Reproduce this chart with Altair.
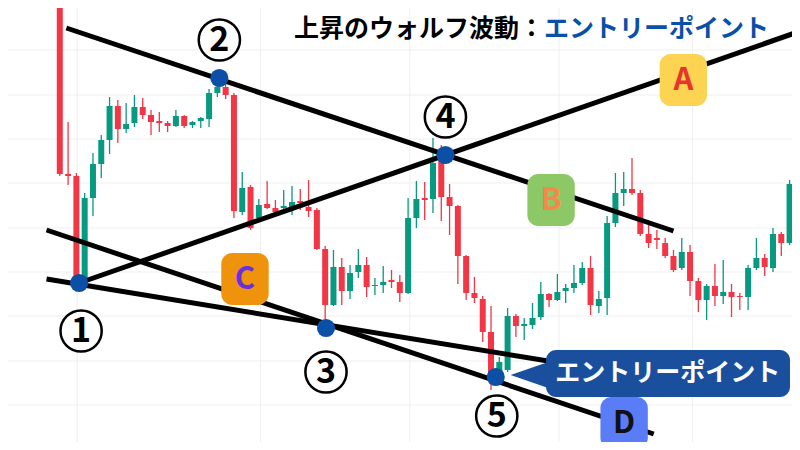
import altair as alt
import pandas as pd

# ---- candle data (index = bar number, prices in chart units) ----
opens = [470, 444, 276, 274, 170, 252, 286, 310, 344, 321, 327, 343, 335, 329, 327, 324, 334, 325, 329, 331,
         357, 363, 355, 238, 263, 232, 246, 242, 242, 243, 249, 243, 240, 201, 145, 183, 159, 178, 185, 164,
         165, 170, 168, 157, 232, 252, 251, 295, 253, 244, 194, 157, 151, 118, 78, 80, 134, 124, 125, 133,
         156, 150, 159, 162, 167, 182, 144, 152, 227, 257, 261, 257, 216, 212, 207, 194, 182, 198, 169, 150,
         164, 154, 158, 154, 153, 182, 192, 182, 216, 207]
closes = [445, 276, 274, 169, 252, 286, 310, 344, 321, 326, 343, 335, 328, 327, 324, 334, 324, 328, 332, 357,
          363, 355, 239, 262, 222, 245, 242, 238, 244, 248, 247, 239, 201, 145, 183, 159, 177, 185, 163, 165,
          168, 168, 157, 232, 251, 250, 287, 253, 244, 194, 157, 152, 118, 75, 88, 134, 124, 126, 132, 156,
          150, 158, 162, 167, 182, 145, 151, 227, 257, 261, 257, 216, 207, 210, 194, 180, 198, 169, 150, 164,
          154, 158, 153, 153, 182, 192, 183, 216, 207, 266]
highs = [475, 446, 328, 277, 257, 297, 315, 353, 350, 347, 355, 352, 340, 338, 329, 340, 335, 329, 333, 361,
         370, 367, 357, 278, 265, 251, 269, 250, 260, 264, 261, 270, 242, 204, 200, 192, 185, 201, 193, 172,
         184, 180, 175, 252, 269, 268, 312, 305, 266, 245, 195, 173, 154, 144, 93, 142, 136, 132, 147, 168,
         157, 176, 166, 185, 188, 194, 159, 234, 277, 278, 292, 260, 226, 220, 212, 200, 212, 205, 172, 166,
         186, 190, 166, 157, 185, 212, 196, 222, 218, 270]
lows = [442, 274, 265, 166, 167, 234, 272, 296, 307, 317, 323, 331, 315, 318, 318, 323, 322, 322, 322, 323,
        353, 351, 232, 235, 220, 230, 241, 236, 241, 235, 240, 233, 200, 128, 144, 145, 151, 172, 153, 155,
        157, 162, 148, 156, 222, 230, 237, 229, 215, 166, 150, 147, 108, 60, 74, 78, 113, 110, 121, 130,
        143, 149, 147, 157, 165, 135, 137, 135, 223, 244, 255, 214, 202, 201, 192, 178, 180, 154, 138, 130,
        144, 146, 133, 140, 140, 180, 174, 178, 194, 205]

# ---- annotation data ----
grid_prices = [444, 400, 355, 311, 267, 222, 178, 134, 89, 45]
grid_bars = [3.1, 25.2, 43.2, 61.2, 77.3]

trend_ids = ["L1", "L1", "L2", "L2", "L3", "L3", "L4", "L4"]
trend_x = [1.79, 75.0, 3.33, 89.64, -0.6, 59.88, -0.6, 72.62]
trend_y = [422, 219, 167, 417, 171, 89, 220, 16]

pivot_x = [3.33, 20.24, 33.1, 47.5, 53.57]
pivot_y = [167, 372, 122, 295, 73]

num_labels = ["1", "2", "3", "4", "5"]
num_x = [3.57, 20.24, 33.1, 47.5, 53.69]
num_y = [119, 410, 78, 333, 34]

box_labels = ["A", "B", "C", "D"]
box_x = [76.19, 60.24, 23.33, 69.05]
box_y = [370, 250, 171, 27]
box_fill = ["#fdd352", "#8cc865", "#f0930c", "#5a7cf6"]
box_text = ["#e8352c", "#f5894b", "#6a2fe0", "#111111"]

GREEN = "#089981"
RED = "#f23645"
BLUE = "#0b4fa6"
CALLOUT = "#1a4f9e"
FONT = "Noto Sans CJK JP"
PX_PER_BAR = 8.4

candles = pd.DataFrame({"i": list(range(len(opens))), "open": opens, "close": closes,
                        "high": highs, "low": lows})
candles["dir"] = ["up" if c >= o else "down" for o, c in zip(opens, closes)]

xs = alt.Scale(domain=[-4.643, 88.69], nice=False, zero=False)
ys = alt.Scale(domain=[8, 442], nice=False, zero=False)
col = alt.Color("dir:N", scale=alt.Scale(domain=["up", "down"], range=[GREEN, RED]), legend=None)


def X(f):
    return alt.X(f, type="quantitative", scale=xs, axis=None)


def Y(f):
    return alt.Y(f, type="quantitative", scale=ys, axis=None)


hgrid = alt.Chart(pd.DataFrame({"p": grid_prices})).mark_rule(color="#efefef", strokeWidth=1).encode(y=Y("p"))
vgrid = alt.Chart(pd.DataFrame({"b": grid_bars})).mark_rule(color="#efefef", strokeWidth=1).encode(x=X("b"))

base = alt.Chart(candles)
wicks = base.mark_rule(strokeWidth=1.3, clip=True).encode(x=X("i"), y=Y("low"), y2="high", color=col)
bodies = base.mark_bar(size=6, clip=True).encode(x=X("i"), y=Y("open"), y2="close", color=col)

tdf = pd.DataFrame({"id": trend_ids, "x": trend_x, "y": trend_y, "o": [0, 1] * 4})
trends = alt.Chart(tdf).mark_line(color="black", strokeWidth=5, strokeCap="butt", clip=True).encode(
    x=X("x"), y=Y("y"), detail="id:N", order="o:Q")

pivots = alt.Chart(pd.DataFrame({"x": pivot_x, "y": pivot_y})).mark_point(
    filled=True, size=330, color=BLUE, opacity=1).encode(x=X("x"), y=Y("y"))

ndf = pd.DataFrame({"t": num_labels, "x": num_x, "y": num_y})
num_circ = alt.Chart(ndf).mark_point(shape="circle", size=1700, fill="white", stroke="black",
                                     strokeWidth=2.5, filled=False, opacity=1, fillOpacity=1).encode(
    x=X("x"), y=Y("y"))
num_txt = alt.Chart(ndf).mark_text(font=FONT, fontSize=34, fontWeight="bold", color="black",
                                   baseline="middle", dy=1).encode(x=X("x"), y=Y("y"), text="t:N")

bw = 24 / PX_PER_BAR
bh = 26
bdf = pd.DataFrame({"t": box_labels, "x": box_x, "y": box_y, "fill": box_fill, "tc": box_text})
bdf["x1"] = bdf["x"] - bw
bdf["x2"] = bdf["x"] + bw
bdf["y1"] = bdf["y"] - bh
bdf["y2"] = bdf["y"] + bh
boxes = alt.Chart(bdf).mark_rect(cornerRadius=11).encode(
    x=X("x1"), x2="x2", y=Y("y1"), y2="y2", color=alt.Color("fill:N", scale=None))
box_txt = alt.Chart(bdf).mark_text(font=FONT, fontSize=31, fontWeight="bold", baseline="middle", dy=1).encode(
    x=X("x"), y=Y("y"), text="t:N", color=alt.Color("tc:N", scale=None))

# entry-point callout
tri = alt.Chart(pd.DataFrame({"x": [55.36, 59.9], "lo": [75, 62], "hi": [75, 88]})).mark_area(
    color=CALLOUT, opacity=1).encode(x=X("x"), y=Y("lo"), y2="hi")
cbox = alt.Chart(pd.DataFrame({"x1": [59.64], "x2": [89.05], "y1": [53], "y2": [100]})).mark_rect(
    color=CALLOUT, cornerRadius=10).encode(x=X("x1"), x2="x2", y=Y("y1"), y2="y2")
ctxt = alt.Chart(pd.DataFrame({"t": ["エントリーポイント"], "x": [74.3], "y": [77]})).mark_text(
    font=FONT, fontSize=25, fontWeight="bold", color="white", baseline="middle").encode(
    x=X("x"), y=Y("y"), text="t:N")

title_black = alt.Chart(pd.DataFrame({"t": ["上昇のウォルフ波動："], "x": [59.4], "y": [421]})).mark_text(
    font=FONT, fontSize=25, fontWeight="bold", color="black", align="right", baseline="middle").encode(
    x=X("x"), y=Y("y"), text="t:N")
title_blue = alt.Chart(pd.DataFrame({"t": ["エントリーポイント"], "x": [59.4], "y": [421]})).mark_text(
    font=FONT, fontSize=25, fontWeight="bold", color=BLUE, align="left", baseline="middle").encode(
    x=X("x"), y=Y("y"), text="t:N")

chart = alt.layer(
    hgrid, vgrid, wicks, bodies, trends, pivots, num_circ, num_txt, boxes, box_txt,
    tri, cbox, ctxt, title_black, title_blue
).properties(
    width=784, height=434, padding=0, autosize=alt.AutoSizeParams(type="none"),
    background="white"
).configure_view(stroke=None)

chart.save("out.html", embed_options={"renderer": "svg", "actions": False})
